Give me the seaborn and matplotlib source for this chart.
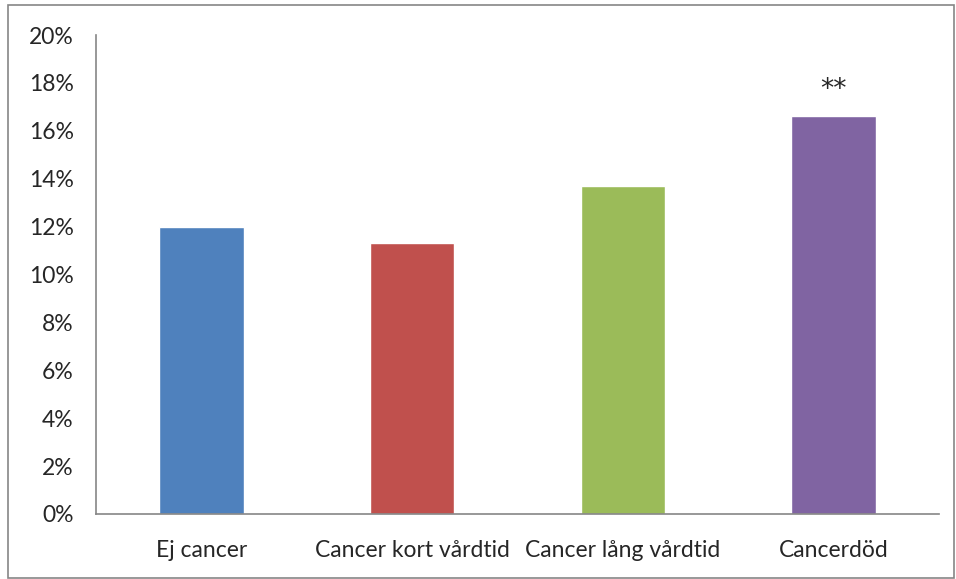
import matplotlib
matplotlib.use("Agg")
import matplotlib.pyplot as plt
import seaborn as sns
import pandas as pd
from matplotlib.patches import Rectangle

categories = ["Ej cancer", "Cancer kort vårdtid", "Cancer lång vårdtid", "Cancerdöd"]
values = [12.0, 11.3, 13.7, 16.6]
annotations = ["", "", "", "**"]
colors = ["#4F81BD", "#C0504D", "#9BBB59", "#8064A2"]
yticks = [0, 2, 4, 6, 8, 10, 12, 14, 16, 18, 20]

sns.set_style("white")
plt.rcParams['font.family'] = ['Lato', 'DejaVu Sans']

df = pd.DataFrame({"cat": categories, "val": values})
fig = plt.figure(figsize=(9.56, 5.79), dpi=100)
ax = fig.add_axes([96/956, 1-514/579, (939-96)/956, (514-35)/579])
sns.barplot(data=df, x="cat", y="val", hue="cat", palette=colors, width=0.4,
            legend=False, ax=ax, saturation=1)

ax.set_ylim(0, 20)
ax.set_xlim(-0.5, len(categories) - 0.5)
ax.set_yticks(yticks)
ax.set_yticklabels([f"{t}%" for t in yticks], fontsize=16.5)
ax.set_xticks([i - 0.5 for i in range(len(categories) + 1)])
ax.set_xticklabels([])
ax.set_xticks(range(len(categories)), minor=True)
ax.set_xticklabels(categories, minor=True, fontsize=16.5)
ax.tick_params(axis='x', which='minor', length=0, pad=19)
ax.tick_params(axis='x', which='major', length=6, width=1.2, color="#868686", direction='out')
ax.tick_params(axis='y', length=6, width=1.2, color="#868686", direction='out', pad=10)
ax.set_xlabel("")
ax.set_ylabel("")
for s in ["top", "right"]:
    ax.spines[s].set_visible(False)
for s in ["left", "bottom"]:
    ax.spines[s].set_color("#868686")
    ax.spines[s].set_linewidth(1.2)

for i, (v, a) in enumerate(zip(values, annotations)):
    if a:
        ax.text(i, v + 1.1, a, ha="center", va="center", fontsize=19,
                family=["DejaVu Sans"])

fig.patches.append(Rectangle((8/956, 1/579), 946/956, 1-6/579, transform=fig.transFigure,
                             fill=False, edgecolor="#868686", linewidth=1.2))

fig.savefig("out.png", dpi=100)
